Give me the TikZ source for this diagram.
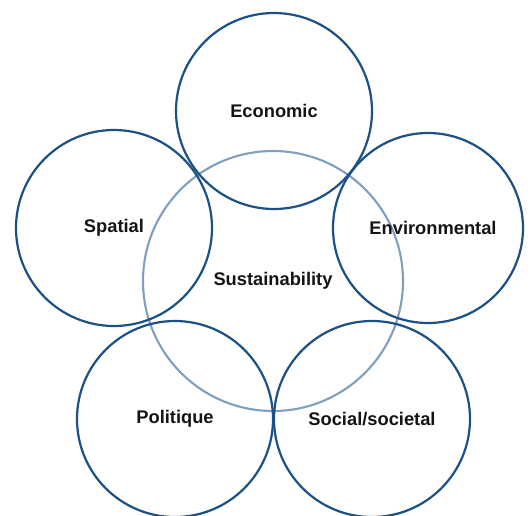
\documentclass[tikz,border=0pt]{standalone}
\usepackage{fontspec}
\setmainfont{Liberation Sans}
\definecolor{ringblue}{HTML}{1B5186}
\definecolor{ringlight}{HTML}{7E9FBE}
\begin{document}
\begin{tikzpicture}[x=1pt,y=-1pt,
  ring/.style={circle,draw=ringblue,line width=2.2pt,minimum size=196pt,inner sep=0pt,
    font=\fontsize{18.3}{21}\selectfont\bfseries,text=black!92},
  core/.style={circle,draw=ringlight,line width=2.1pt,minimum size=260pt,inner sep=0pt,
    font=\fontsize{18.3}{21}\selectfont\bfseries,text=black!92}]
\useasboundingbox (0,0) rectangle (530,515);
\node[core] (sus) at (273,281) {Sustainability};
\node[ring] (eco) at (274,111) {Economic};
\node[ring] (spa) at (114,228) {Spatial};
\node[ring,minimum size=190pt] (env) at (428,228) {\hspace*{10pt}Environmental};
\node[ring] (pol) at (175,419) {Politique};
\node[ring] (soc) at (372,419) {Social/societal};
\end{tikzpicture}
\end{document}
